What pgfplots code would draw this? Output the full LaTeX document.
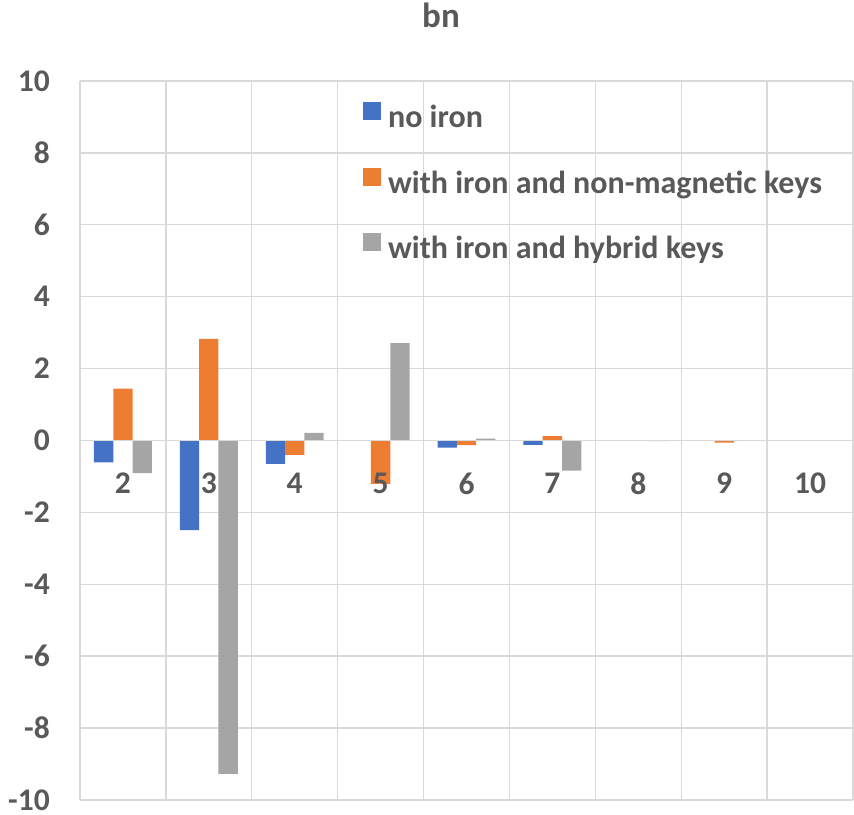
\documentclass[border=0pt]{standalone}
\usepackage{pgfplots}
\usepackage{pgfplotstable}
\pgfplotsset{compat=1.18}
\usepackage{fontspec}
\setmainfont{Carlito}
\definecolor{txt}{HTML}{595959}
\definecolor{gridc}{HTML}{D9D9D9}
\definecolor{sblue}{HTML}{4472C4}
\definecolor{sorange}{HTML}{ED7D31}
\definecolor{sgray}{HTML}{A5A5A5}

% harmonic coefficients b_n for n = 2..10 (x = n - 2)
\pgfplotstableread{
x noiron nonmag hybrid
0 -0.61  1.44  -0.91
1 -2.49  2.83  -9.27
2 -0.65 -0.40   0.21
3  0.00 -1.21   2.71
4 -0.20 -0.13   0.05
5 -0.12  0.12  -0.84
6  0.00  0.00  -0.02
7  0.00 -0.06   0.01
8  0.00  0.00  -0.01
}\bndata

\begin{document}
\begin{tikzpicture}
\begin{axis}[
  name=main,
  set layers,
  % bars above the grid, tick labels above the bars
  every axis plot/.append style={on layer=axis ticks},
  scale only axis, width=773pt, height=719pt,
  xmin=-0.5, xmax=8.5, ymin=-10, ymax=10,
  ytick={-10,-8,...,10},
  xtick={0,1,2,3,4,5,6,7,8},
  xticklabels={2,3,4,5,6,7,8,9,10},
  minor xtick={-0.5,0.5,1.5,2.5,3.5,4.5,5.5,6.5,7.5,8.5},
  ymajorgrids, xminorgrids,
  grid style={gridc, line width=1.4pt},
  minor grid style={gridc, line width=1.4pt},
  axis x line*=middle, axis y line*=left,
  x axis line style={gridc, line width=1.2pt, -},
  y axis line style={draw=none, -},
  major tick length=0pt, minor tick length=0pt,
  tick style={draw=none},
  /pgf/number format/assume math mode=true,
  ticklabel style={font=\bfseries\fontsize{31.5}{36}\selectfont, text=txt, inner sep=0pt},
  yticklabel style={anchor=east, xshift=-30pt},
  xticklabel style={anchor=north, yshift=-32pt},
  title={bn},
  title style={at={(0.467,1.0654)}, anchor=base, font=\bfseries\fontsize{35}{40}\selectfont, text=txt},
  ybar=0pt, bar width=19.3pt,
  legend cell align=left,
  legend image code/.code={\fill[#1, draw=none] (0pt,0pt) rectangle (18pt,18pt);},
  legend style={draw=none, fill=none, inner sep=0pt,
    at={(0.366,0.971)}, anchor=north west,
    row sep=33pt,
    font=\bfseries\fontsize{32}{36}\selectfont, text=txt,
    nodes={inner sep=0pt, text height=22pt, text depth=7pt},
    /tikz/every odd column/.append style={column sep=7pt}},
]
\addplot[fill=sblue, draw=none] table[x=x, y=noiron] {\bndata};
\addplot[fill=sorange, draw=none] table[x=x, y=nonmag] {\bndata};
\addplot[fill=sgray, draw=none] table[x=x, y=hybrid] {\bndata};
\legend{no iron, with iron and non-magnetic keys, with iron and hybrid keys}
\end{axis}
\pgfresetboundingbox
\path[use as bounding box] (main.south west) ++(-80pt,-14pt) rectangle ++(854pt,814pt);
\end{tikzpicture}
\end{document}
